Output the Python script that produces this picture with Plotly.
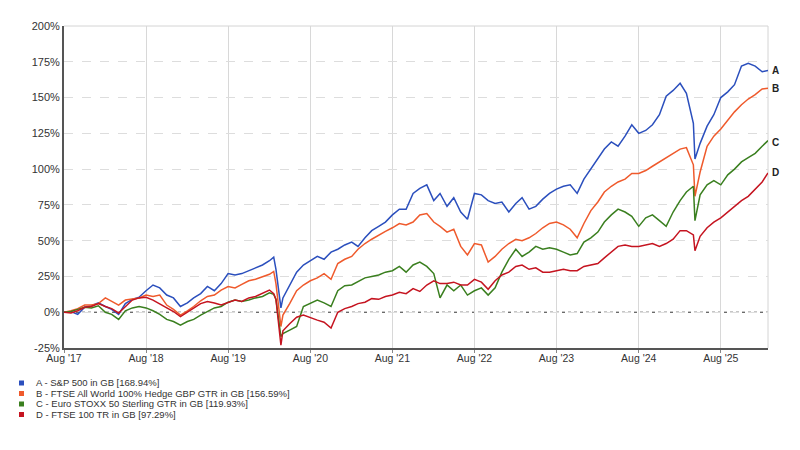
import plotly.graph_objects as go

dates = [
    "2017-08-01", "2017-09-01", "2017-10-01", "2017-11-01", "2017-12-01",
    "2018-01-01", "2018-02-01", "2018-03-01", "2018-04-01", "2018-05-01", "2018-06-01",
    "2018-07-01", "2018-08-01", "2018-09-01", "2018-10-01", "2018-11-01", "2018-12-01",
    "2019-01-01", "2019-02-01", "2019-03-01", "2019-04-01", "2019-05-01", "2019-06-01",
    "2019-07-01", "2019-08-01", "2019-09-01", "2019-10-01", "2019-11-01", "2019-12-01",
    "2020-01-01", "2020-02-01", "2020-02-20", "2020-03-01", "2020-03-23",
    "2020-04-01", "2020-05-01", "2020-06-01", "2020-07-01", "2020-08-01", "2020-09-01",
    "2020-10-01", "2020-11-01", "2020-12-01", "2021-01-01", "2021-02-01", "2021-03-01",
    "2021-04-01", "2021-05-01", "2021-06-01", "2021-07-01", "2021-08-01", "2021-09-01",
    "2021-10-01", "2021-11-01", "2021-12-01", "2022-01-01", "2022-02-01", "2022-03-01",
    "2022-04-01", "2022-05-01", "2022-06-01", "2022-07-01", "2022-08-01", "2022-09-01",
    "2022-10-01", "2022-11-01", "2022-12-01", "2023-01-01", "2023-02-01", "2023-03-01",
    "2023-04-01", "2023-05-01", "2023-06-01", "2023-07-01", "2023-08-01", "2023-09-01",
    "2023-10-01", "2023-11-01", "2023-12-01", "2024-01-01", "2024-02-01", "2024-03-01",
    "2024-04-01", "2024-05-01", "2024-06-01", "2024-07-01", "2024-08-01", "2024-09-01",
    "2024-10-01", "2024-11-01", "2024-12-01", "2025-01-01", "2025-02-01", "2025-03-01",
    "2025-04-01", "2025-04-08", "2025-05-01", "2025-06-01", "2025-07-01", "2025-08-01",
    "2025-09-01", "2025-10-01", "2025-11-01", "2025-12-01", "2026-01-01", "2026-02-01",
    "2026-02-27",
]

series_a = [
    0, 0.5, -1.5, 3.5, 4.5, 6.5, 4, 2, -1.5, 6, 9, 10.5, 15, 19, 17, 12, 10, 4, 6.5, 10,
    13, 18, 15, 20, 27, 26, 27, 29, 31, 33, 36,
    38.5, 30, 3,
    10, 19, 28, 33, 36, 39, 37, 42, 44, 47, 49, 46, 52, 57, 60, 63, 68,
    72, 72, 83, 86.5, 89, 78, 83, 74, 80, 70, 65, 83, 82, 78, 76, 77, 70, 76, 80, 72, 74,
    79, 83, 86, 88, 89, 83, 93, 100, 107, 114, 119, 116, 123, 131, 125, 127, 131, 138,
    151, 155, 160, 153, 132,
    107,
    118, 130, 138, 150, 154, 159, 172, 174, 172, 168,
    168.94,
]

series_b = [
    0, 1, 2.5, 5, 5, 6, 10, 7.5, 5, 8.5, 9.5, 10, 12, 11, 12, 5, 2, -2, 1, 4, 8, 11, 12,
    15.5, 18, 17, 19.5, 22, 23, 24.5, 26.5,
    28.5, 20, -10,
    -2, 6, 15, 19, 22, 24, 27, 23, 34, 37, 39, 44, 48, 51, 54, 56.5, 59,
    62, 61, 63, 68, 69, 63, 60, 56, 58, 46, 40, 48, 47, 35, 39, 44, 48, 51, 50, 52, 55,
    59, 62, 63, 61, 58, 52, 62, 71, 77, 84, 88, 91, 93, 97, 97, 99, 102, 105, 108, 111,
    114, 115, 103,
    81,
    98, 116, 123, 128, 134, 140, 145, 149, 152, 156,
    156.59,
]

series_c = [
    0, 0.5, 2, 3.5, 3, 4.5, 0, -1.5, -5, 1, 3, 4, 3, 1, -1.5, -5, -6.5, -9, -6.5, -5,
    -2, 0.5, 3, 4, 7, 8.5, 7.5, 8.5, 10, 11, 13.5,
    12.5, 9, -17,
    -15, -12.5, -10, 4, 6.5, 8.5, 6.5, 4, 15, 18.5, 19, 21.5, 24, 25, 26, 28, 29,
    32, 28, 33, 35, 32, 27, 10, 19, 15, 19, 12, 15, 17, 12, 17, 28, 37, 44, 39, 42, 46,
    44, 45, 44, 42, 40, 41, 49, 52, 56, 63, 68, 72, 70, 67, 60, 66, 68, 64, 60, 70, 78,
    84, 88,
    64,
    82, 89, 92, 89, 96, 100, 105, 108, 111, 116,
    119.93,
]

series_d = [
    0, -0.5, 1, 3.5, 4, 6, 4, 2.5, -0.5, 4, 8.5, 10, 10.5, 8.5, 6, 3, 0.5, -3, 0, 3, 6,
    7.5, 6.5, 5, 6.5, 8.5, 7.5, 10, 11, 13, 15.5,
    13, 9, -23,
    -13, -8, -3.5, -2, -4, -5.5, -7, -11, 0, 2.5, 4, 6, 7, 9.5, 9, 11, 12,
    14, 13, 16.5, 14.5, 19, 22, 20, 20, 21, 19, 19, 23, 21, 16, 22, 26, 28, 32, 33, 30,
    31, 28, 28, 29, 30, 29, 29, 32, 33, 34, 38, 42, 46, 47, 46, 46, 47, 48, 46, 48, 51,
    57, 57, 54,
    43,
    53, 59, 63, 66, 70, 74, 78, 81, 86, 91,
    97.29,
]

series_names = [
    "A - S&P 500 in GB [168.94%]",
    "B - FTSE All World 100% Hedge GBP GTR in GB [156.59%]",
    "C - Euro STOXX 50 Sterling GTR in GB [119.93%]",
    "D - FTSE 100 TR in GB [97.29%]",
]
series_tags = ["A", "B", "C", "D"]
series_colors = ["#2b4fbd", "#ef5a2c", "#3a7f1f", "#c51420"]

x_tick_dates = ["2017-08-01", "2018-08-01", "2019-08-01", "2020-08-01", "2021-08-01",
                "2022-08-01", "2023-08-01", "2024-08-01", "2025-08-01"]
x_tick_labels = ["Aug '17", "Aug '18", "Aug '19", "Aug '20", "Aug '21",
                 "Aug '22", "Aug '23", "Aug '24", "Aug '25"]
y_ticks = [-25, 0, 25, 50, 75, 100, 125, 150, 175, 200]
y_tick_labels = ["-25%", "0%", "25%", "50%", "75%", "100%", "125%", "150%", "175%", "200%"]

FONT = "Liberation Sans, Arial, sans-serif"
W, H = 800, 450
ML, MR, MT, MB = 64, 32, 26, 102
PW, PH = W - ML - MR, H - MT - MB


def px_to_paper(px, py):
    return (px - ML) / PW, (H - MB - py) / PH


fig = go.Figure()

all_series = [series_a, series_b, series_c, series_d]
for vals, col, nm in zip(all_series, series_colors, series_names):
    fig.add_trace(go.Scatter(x=dates, y=vals, mode="lines", name=nm,
                             line=dict(color=col, width=1.5), showlegend=False,
                             hoverinfo="skip"))

# zero dotted line
fig.add_shape(type="line", xref="paper", x0=0, x1=1, yref="y", y0=0, y1=0,
              line=dict(color="#333333", width=1, dash="dot"), layer="between")
# top & right frame
fig.add_shape(type="line", xref="paper", yref="paper", x0=0, x1=1, y0=1, y1=1,
              line=dict(color="#d4d4d4", width=1), layer="below")
fig.add_shape(type="line", xref="paper", yref="paper", x0=1, x1=1, y0=0, y1=1,
              line=dict(color="#d4d4d4", width=1), layer="below")

# end tags
tag_shift = [0, 0, -2, 0]
for vals, tag, ys in zip(all_series, series_tags, tag_shift):
    fig.add_annotation(x=dates[-1], y=vals[-1], xref="x", yref="y", text="<b>%s</b>" % tag,
                       showarrow=False, xanchor="left", yanchor="middle", xshift=2, yshift=ys,
                       font=dict(family=FONT, size=10, color="#222222"))

# legend (squares + text)
row_y = [383, 393.5, 404, 414.5]
for ry, col, nm in zip(row_y, series_colors, series_names):
    x0, y0 = px_to_paper(19, ry - 2.5)
    x1, y1 = px_to_paper(24, ry + 2.5)
    fig.add_shape(type="rect", xref="paper", yref="paper", x0=x0, x1=x1, y0=y1, y1=y0,
                  fillcolor=col, line=dict(width=0))
    tx, ty = px_to_paper(35, ry - 0.5)
    fig.add_annotation(x=tx, y=ty, xref="paper", yref="paper", text=nm, showarrow=False,
                       xanchor="left", yanchor="middle", borderpad=0,
                       font=dict(family=FONT, size=9.5, color="#333333"))

fig.update_layout(
    width=W, height=H,
    margin=dict(l=ML, r=MR, t=MT, b=MB, autoexpand=False),
    paper_bgcolor="white", plot_bgcolor="white",
    font=dict(family=FONT, color="#333333"),
    showlegend=False, hovermode=False,
)
fig.update_xaxes(
    type="date", range=["2017-08-01", "2026-02-27"],
    tickvals=x_tick_dates, ticktext=x_tick_labels,
    tickfont=dict(family=FONT, size=10.5, color="#333333"),
    showgrid=True, gridcolor="#d8d8d8", gridwidth=1,
    showline=True, linecolor="#555555", linewidth=1.5,
    ticks="outside", ticklen=3, tickcolor="#888888",
    ticklabelstandoff=-3, automargin=False,
    zeroline=False,
)
fig.update_yaxes(
    range=[-25, 200], tickvals=y_ticks, ticktext=y_tick_labels,
    tickfont=dict(family=FONT, size=11, color="#333333"),
    showgrid=True, gridcolor="#dddddd", gridwidth=1, griddash="dash",
    showline=True, linecolor="#555555", linewidth=2,
    ticks="", zeroline=False, automargin=False,
)

fig.write_html("out.html", config={"displayModeBar": False},
               post_script="document.body.style.margin='0';document.body.style.padding='0';")
